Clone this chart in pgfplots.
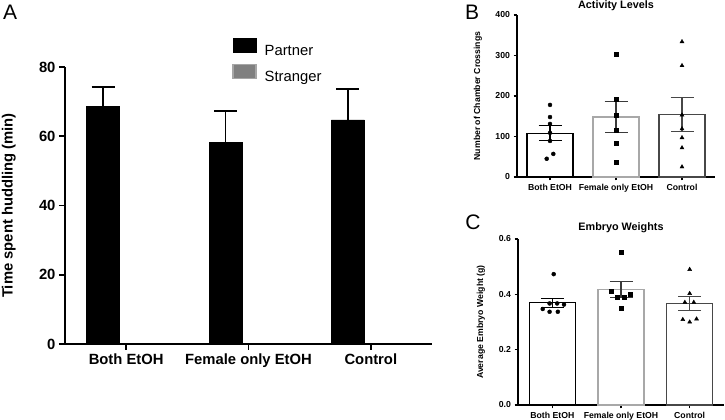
\documentclass[border=0pt]{standalone}
\usepackage{fontspec}
\setmainfont{Liberation Sans}
\usepackage{pgfplots}
\pgfplotsset{compat=1.18}

\definecolor{femgray}{HTML}{A8A8A8}
\definecolor{ctrlgray}{HTML}{474747}
\definecolor{errgray}{HTML}{3A3A3A}
\definecolor{strgray}{HTML}{808080}
\definecolor{strborder}{HTML}{A6A6A6}

\newcommand{\fsA}{\fontsize{14.8}{17}\selectfont}
\newcommand{\fsB}{\fontsize{8.7}{10}\selectfont}
\newcommand{\fsT}{\fontsize{10.8}{12}\selectfont}
\newcommand{\fsL}{\fontsize{21}{21}\selectfont}

\pgfplotsset{
  prism/.style={
    scale only axis, anchor=south west, clip=false,
    axis x line=bottom, axis y line=left,
    axis line style={-, black},
    tick align=outside,
    xmin=-0.5, xmax=2.5, xtick={0,1,2},
    xticklabels={Both EtOH, Female only EtOH, Control},
    /pgf/number format/assume math mode=true,
  },
  small/.style={
    axis line style={line width=1.1pt},
    major tick style={line width=1.1pt, black}, major tick length=3.5pt,
    tick label style={font=\fsB\bfseries},
    title style={font=\fsT\bfseries, yshift=-3.5pt},
  },
  errs/.style={
    error bars/.cd, y dir=both, y explicit,
    error bar style={line width=1.1pt, #1},
    error mark options={rotate=90, mark size=11.5pt, line width=1.1pt, #1},
  },
}

\begin{document}
\begin{tikzpicture}
\useasboundingbox (0,0) rectangle (725pt,420pt);

% A: huddling
\begin{axis}[prism,
  at={(65pt,76pt)}, width=367pt, height=277pt,
  ymin=0, ymax=80, ytick={0,20,...,80},
  axis line style={line width=1.6pt},
  major tick style={line width=1.6pt, black}, major tick length=6pt,
  tick label style={font=\fsA\bfseries},
  ylabel={Time spent huddling (min)},
  ylabel style={font=\fsA\bfseries, at={(axis description cs:-0.153,0.5)}, anchor=center},
  legend cell align=left,
  legend style={at={(axis description cs:0.455,1.104)}, anchor=north west,
    draw=none, fill=none, inner sep=0pt, font=\fsA, row sep=5pt,
    /tikz/every odd column/.append style={column sep=6pt}},
  legend image code/.code={\draw[#1] (0pt,-1.6pt) rectangle (23pt,12.4pt);},
]
\addplot[ybar, bar width=33pt, bar shift=-23pt, fill=black, draw=black, forget plot,
  error bars/.cd, y dir=plus, y explicit,
  error bar style={line width=1.5pt, black, xshift=-23pt},
  error mark options={rotate=90, mark size=11.5pt, line width=1.5pt, black}]
  coordinates {(0,68.7) +- (0,5.5) (1,58.3) +- (0,9.0) (2,64.7) +- (0,8.9)};
\addlegendimage{fill=black, draw=black}
\addlegendentry{Partner}
\addlegendimage{fill=strgray, draw=strborder, line width=1.5pt}
\addlegendentry{Stranger}
\node[anchor=north west, inner sep=0pt, font=\fsL] at (axis description cs:-0.169,1.224) {A};
\end{axis}

% B: activity levels
\begin{axis}[prism, small,
  at={(517pt,243pt)}, width=198pt, height=162pt,
  ymin=0, ymax=400, ytick={0,100,...,400},
  title={Activity Levels}, title style={yshift=-1.5pt},
  ylabel={Number of Chamber Crossings},
  ylabel style={font=\fsB\bfseries, at={(axis description cs:-0.197,0.5)}, anchor=center},
]
\addplot[ybar, bar width=46pt, bar shift=0pt, fill=white, draw=black, line width=1.3pt, errs=black]
  coordinates {(0,108) +- (0,18.5)};
\addplot[ybar, bar width=46pt, bar shift=0pt, fill=white, draw=femgray, line width=1.3pt, errs=errgray]
  coordinates {(1,148) +- (0,38.5)};
\addplot[ybar, bar width=46pt, bar shift=0pt, fill=white, draw=ctrlgray, line width=1.3pt, errs=ctrlgray]
  coordinates {(2,154) +- (0,42)};
\addplot[only marks, mark=*, mark size=2pt, black]
  coordinates {(0,178) (0,148) (0,131) (0,109) (0,89) (0.05,57) (-0.05,45)};
\addplot[only marks, mark=square*, mark size=2pt, black]
  coordinates {(1,304) (1,193) (1,153) (1,116) (1,84) (1,37)};
\addplot[only marks, mark=triangle*, mark size=2.3pt, black]
  coordinates {(2,334) (2,275) (2,153) (2,119) (2,97) (2,72) (2,25)};
\node[anchor=north west, inner sep=0pt, font=\fsL] at (axis description cs:-0.263,1.062) {B};
\end{axis}

% C: embryo weights
\begin{axis}[prism, small,
  at={(518pt,15pt)}, width=206pt, height=166pt,
  ymin=0, ymax=0.6, ytick={0,0.2,0.4,0.6},
  yticklabel style={/pgf/number format/.cd, fixed, fixed zerofill, precision=1},
  title={Embryo Weights},
  ylabel={Average Embryo Weight (g)},
  ylabel style={font=\fsB\bfseries, at={(axis description cs:-0.18,0.5)}, anchor=center},
]
\addplot[ybar, bar width=46pt, bar shift=0pt, fill=white, draw=black, line width=1.3pt, errs=black]
  coordinates {(0,0.370) +- (0,0.016)};
\addplot[ybar, bar width=46pt, bar shift=0pt, fill=white, draw=femgray, line width=1.3pt, errs=errgray]
  coordinates {(1,0.418) +- (0,0.028)};
\addplot[ybar, bar width=46pt, bar shift=0pt, fill=white, draw=ctrlgray, line width=1.3pt, errs=ctrlgray]
  coordinates {(2,0.368) +- (0,0.025)};
\addplot[only marks, mark=*, mark size=2pt, black]
  coordinates {(0.02,0.473) (-0.04,0.367) (0.07,0.367) (0.17,0.363) (-0.14,0.347) (-0.04,0.337) (0.08,0.337)};
\addplot[only marks, mark=square*, mark size=2pt, black]
  coordinates {(1,0.552) (0.85,0.410) (0.94,0.390) (1.04,0.390) (1.14,0.400) (1,0.350)};
\addplot[only marks, mark=triangle*, mark size=2.3pt, black]
  coordinates {(2,0.490) (2,0.403) (1.93,0.371) (2.06,0.371) (1.9,0.309) (2,0.300) (2.1,0.311)};
\node[anchor=north west, inner sep=0pt, font=\fsL] at (axis description cs:-0.257,1.145) {C};
\end{axis}
\end{tikzpicture}
\end{document}
